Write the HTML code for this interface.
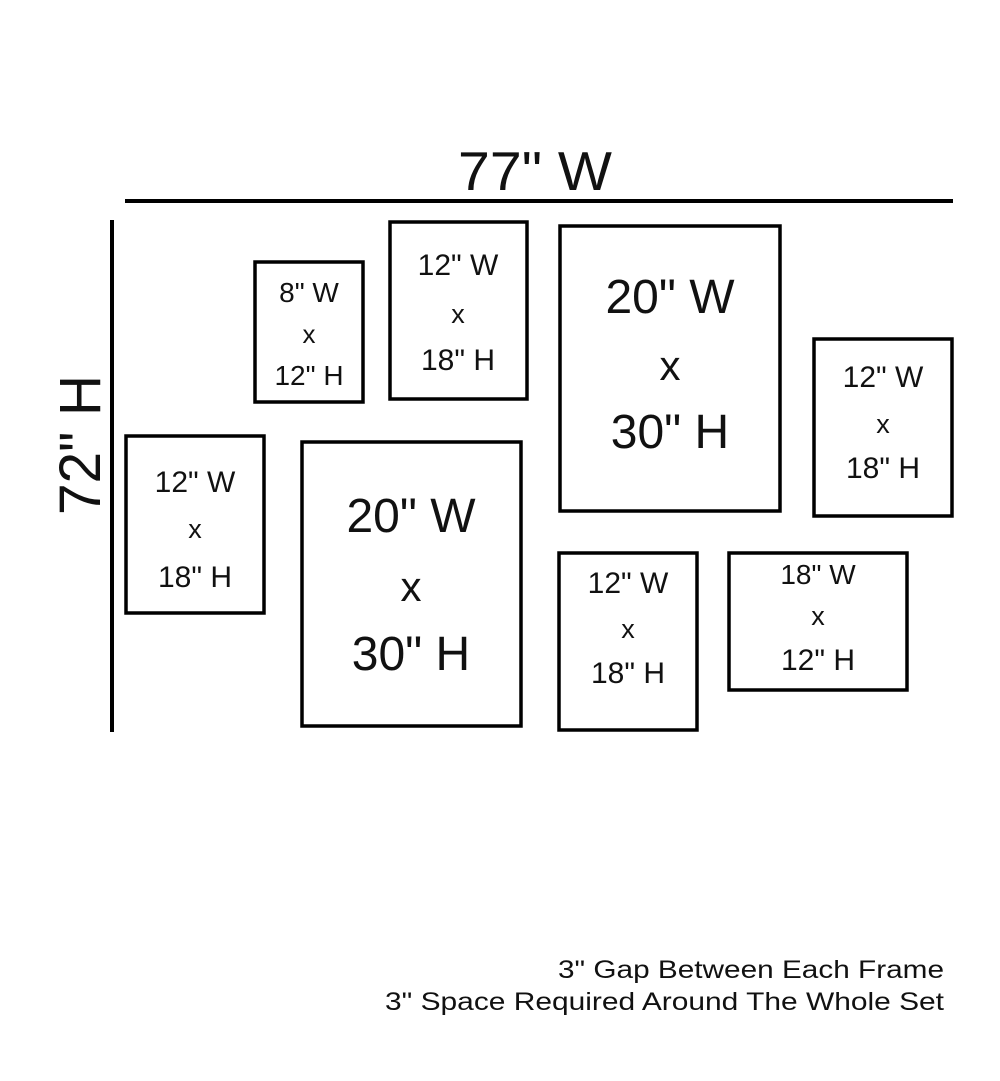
<!DOCTYPE html>
<html><head><style>
html,body{margin:0;padding:0;background:#fff;}
svg{display:block;}
text{font-family:"Liberation Sans",sans-serif;fill:#111;}
</style></head><body>
<svg width="1000" height="1081" viewBox="0 0 1000 1081" xmlns="http://www.w3.org/2000/svg">
<g stroke="#000" fill="none">
<line x1="125" y1="201" x2="953" y2="201" stroke-width="4"/>
<line x1="112" y1="220" x2="112" y2="732" stroke-width="4"/>
<g stroke-width="3.5">
<rect x="255" y="262" width="108" height="140"/>
<rect x="390" y="222" width="137" height="177"/>
<rect x="560" y="226" width="220" height="285"/>
<rect x="814" y="339" width="138" height="177"/>
<rect x="126" y="436" width="138" height="177"/>
<rect x="302" y="442" width="219" height="284"/>
<rect x="559" y="553" width="138" height="177"/>
<rect x="729" y="553" width="178" height="137"/>
</g>
</g>
<text x="535" y="190" font-size="55" text-anchor="middle" textLength="154" lengthAdjust="spacingAndGlyphs">77" W</text>
<text transform="translate(100,445) rotate(-90)" font-size="58" text-anchor="middle" textLength="140" lengthAdjust="spacingAndGlyphs">72" H</text>

<g text-anchor="middle">
<!-- A -->
<text x="309" y="302" font-size="28">8" W</text>
<text x="309" y="343" font-size="26">x</text>
<text x="309" y="385" font-size="28">12" H</text>
<!-- B -->
<text x="458" y="275" font-size="30">12" W</text>
<text x="458" y="323" font-size="27">x</text>
<text x="458" y="370" font-size="30">18" H</text>
<!-- C -->
<text x="670" y="313" font-size="48">20" W</text>
<text x="670" y="380" font-size="42">x</text>
<text x="670" y="448" font-size="48">30" H</text>
<!-- D -->
<text x="883" y="387" font-size="30">12" W</text>
<text x="883" y="433" font-size="27">x</text>
<text x="883" y="478" font-size="30">18" H</text>
<!-- E -->
<text x="195" y="492" font-size="30">12" W</text>
<text x="195" y="538" font-size="27">x</text>
<text x="195" y="587" font-size="30">18" H</text>
<!-- F -->
<text x="411" y="532" font-size="48">20" W</text>
<text x="411" y="601" font-size="42">x</text>
<text x="411" y="670" font-size="48">30" H</text>
<!-- G -->
<text x="628" y="593" font-size="30">12" W</text>
<text x="628" y="638" font-size="27">x</text>
<text x="628" y="683" font-size="30">18" H</text>
<!-- H -->
<text x="818" y="584" font-size="28">18" W</text>
<text x="818" y="625" font-size="27">x</text>
<text x="818" y="670" font-size="30">12" H</text>
</g>

<text x="944" y="978" font-size="25" text-anchor="end" textLength="386" lengthAdjust="spacingAndGlyphs">3" Gap Between Each Frame</text>
<text x="944" y="1010" font-size="25" text-anchor="end" textLength="559" lengthAdjust="spacingAndGlyphs">3" Space Required Around The Whole Set</text>
</svg>
</body></html>
